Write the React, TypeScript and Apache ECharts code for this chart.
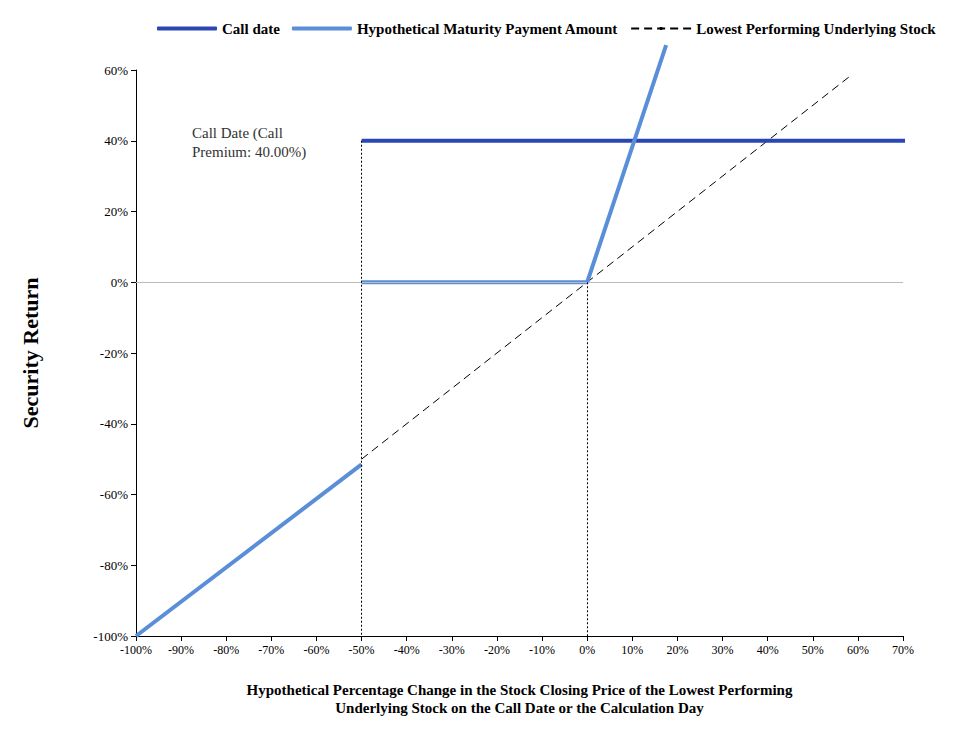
import { useEffect, useRef } from 'react';
import * as echarts from 'echarts';

const xTicks = [-100, -90, -80, -70, -60, -50, -40, -30, -20, -10, 0, 10, 20, 30, 40, 50, 60, 70];
const yTicks = [-100, -80, -60, -40, -20, 0, 20, 40, 60];
const callDate = [[-50, 40], [84, 40]];
const maturityPayment = [[-100, -100], [-50, -51.5], null, [-50, 0], [0, 0], [17.5, 67]];
const lowestStock = [[-50, -50], [58.5, 58.5]];

const FONT = '"Liberation Serif", "DejaVu Serif", serif';

export default function App() {
    const chartRef = useRef<HTMLDivElement>(null);

    useEffect(() => {
        if (!chartRef.current) return;
        const chart = echarts.init(chartRef.current, null, { renderer: 'svg' });
        const payment = maturityPayment.map(p => (p ? p : ['-', '-']));
        chart.setOption({
            animation: false,
            textStyle: { fontFamily: FONT },
            legend: {
                top: 16,
                left: 152,
                itemWidth: 60,
                itemHeight: 4,
                itemGap: 12,
                textStyle: { fontFamily: FONT, fontWeight: 'bold', fontSize: 15, color: '#000' },
                data: [
                    { name: 'Call date', icon: 'roundRect' },
                    { name: 'Hypothetical Maturity Payment Amount', icon: 'roundRect' },
                    { name: 'Lowest Performing Underlying Stock' },
                ],
            },
            grid: { left: 136, right: 70, top: 70, bottom: 96 },
            xAxis: {
                type: 'value',
                min: -100,
                max: 70,
                interval: 10,
                axisLine: { onZero: false, lineStyle: { color: '#000' } },
                axisTick: { show: true, length: 5, lineStyle: { color: '#000' } },
                splitLine: { show: false },
                axisLabel: { fontSize: 12, color: '#000', formatter: (v: number) => xTicks.includes(v) ? `${v}%` : '' },
                name: 'Hypothetical Percentage Change in the Stock Closing Price of the Lowest Performing\nUnderlying Stock on the Call Date or the Calculation Day',
                nameLocation: 'middle',
                nameGap: 45,
                nameTextStyle: { fontFamily: FONT, fontWeight: 'bold', fontSize: 15, color: '#000', lineHeight: 18 },
            },
            yAxis: {
                type: 'value',
                min: -100,
                max: 60,
                interval: 20,
                axisLine: { show: true, onZero: false, lineStyle: { color: '#000' } },
                axisTick: { show: true, length: 5, lineStyle: { color: '#000' } },
                splitLine: { show: false },
                axisLabel: { fontSize: 13, color: '#000', formatter: (v: number) => yTicks.includes(v) ? `${v}%` : '' },
                name: 'Security Return',
                nameLocation: 'middle',
                nameGap: 95,
                nameTextStyle: { fontFamily: FONT, fontWeight: 'bold', fontSize: 22, color: '#000' },
            },
            graphic: [{
                type: 'text',
                left: 192,
                top: 123,
                style: {
                    text: 'Call Date (Call\nPremium: 40.00%)',
                    align: 'center',
                    fontFamily: FONT,
                    fontSize: 15,
                    lineHeight: 19,
                    fill: '#333',
                },
            }],
            series: [
                {
                    name: 'Lowest Performing Underlying Stock',
                    type: 'line',
                    data: lowestStock,
                    symbol: 'none',
                    z: 1,
                    lineStyle: { color: '#000', width: 1, type: [8, 5] },
                    itemStyle: { color: '#000' },
                    markLine: {
                        silent: true,
                        symbol: 'none',
                        label: { show: false },
                        data: [
                            [{ coord: [-100, 0], lineStyle: { color: '#bbb', width: 1, type: 'solid' } }, { coord: [70, 0] }],
                            [{ coord: [-50, 40], lineStyle: { color: '#000', width: 1, type: [2, 2] } }, { coord: [-50, -100] }],
                            [{ coord: [0, 0], lineStyle: { color: '#000', width: 1, type: [2, 2] } }, { coord: [0, -100] }],
                        ],
                    },
                },
                {
                    name: 'Call date',
                    type: 'line',
                    data: callDate,
                    symbol: 'none',
                    clip: false,
                    z: 3,
                    lineStyle: { color: '#2a46b4', width: 4 },
                    itemStyle: { color: '#2a46b4' },
                },
                {
                    name: 'Hypothetical Maturity Payment Amount',
                    type: 'line',
                    data: payment,
                    connectNulls: false,
                    symbol: 'none',
                    clip: false,
                    z: 4,
                    lineStyle: { color: '#5a8ed8', width: 4 },
                    itemStyle: { color: '#5a8ed8' },
                },
            ],
        });
        return () => chart.dispose();
    }, []);

    return <div ref={chartRef} style={{ width: '973px', height: '732px', margin: '-8px' }}></div>;
}
